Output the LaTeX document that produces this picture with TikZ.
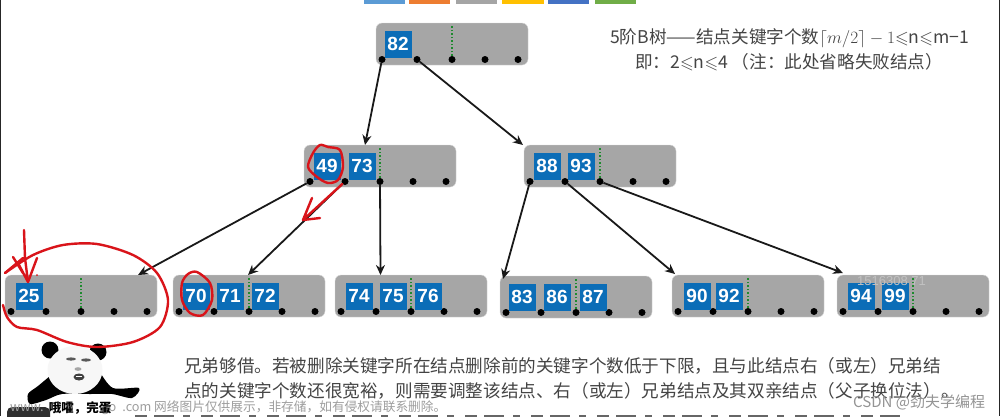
\documentclass[tikz,border=0pt]{standalone}
\usepackage[no-math]{fontspec}
\usepackage{amsmath}
\usepackage{amssymb}
\setmainfont{Liberation Sans}
\newfontfamily\cjk{Noto Sans CJK SC}
\usetikzlibrary{arrows.meta}
\definecolor{boxgrey}{HTML}{A6A6A6}
\definecolor{keyblue}{HTML}{0B6DB7}
\definecolor{greendot}{HTML}{1E8A2E}
\definecolor{inkred}{HTML}{D9141A}
\definecolor{textgrey}{HTML}{444444}
\tikzset{
  bnode/.style={draw=black!15, fill=boxgrey, rounded corners=6pt, minimum width=152pt, minimum height=42pt, inner sep=0pt},
  bdot/.style={circle, fill=black, minimum size=7pt, inner sep=0pt},
  bkey/.style={fill=keyblue, text=white, minimum size=27pt, inner sep=0pt, font=\bfseries\fontsize{19}{19}\selectfont},
  link/.style={-{Stealth[length=10pt,width=9pt]}, line width=1.8pt, black!90},
  redpen/.style={inkred, line width=2.4pt, line cap=round, line join=round},
  sidetext/.style={anchor=west, inner sep=0pt, text=textgrey, font=\cjk\fontsize{17.6}{20}\selectfont},
  stamp/.style={anchor=west, inner sep=0pt, text=black!38, font=\cjk\fontsize{12.7}{14}\selectfont},
}
\newcommand*{\BNode}[4]{% #1 = name, #2/#3 = left/top, #4 = list of key/dx
\node [bnode] (#1) at (#2+76,#3+21) {};
\foreach \i/\dx in {1/6,2/41,3/76,4/109,5/142} {
\node [bdot] (#1-\i) at (#2+\dx,#3+36.5) {};
}%
\draw [greendot, line width=1.5pt, dotted] (#1-3) -- ++(0,-34);
\foreach \k/\dx in {#4} {
\node [bkey] (#1-k\k) at (#2+\dx,#3+21) {\k};
}%
}

\begin{document}
\begin{tikzpicture}[x=1pt,y=-1pt]

            \useasboundingbox (0,0) rectangle (1000,416);
            \fill [white] (0,0) rectangle (1000,416);

            % colour strip
            \foreach \a/\b/\c in {364/405/5B9BD5,409/450/ED7D31,456/497/A5A5A5,502/544/FFC000,548/589/4472C4,595/636/70AD47} {
                \definecolor{strip}{HTML}{\c}
                \fill [strip] (\a,0) rectangle (\b,4);
            }

            % tree
            \BNode{root}{376}{23}{82/22}
            \BNode{midl}{304}{145}{49/23,73/58}
            \BNode{midr}{524}{145}{88/23,93/57}
            \BNode{leafa}{5}{275}{25/24}
            \BNode{leafb}{173}{275}{70/23,71/57,72/92}
            \BNode{leafc}{335}{275}{74/24,75/58,76/93}
            \BNode{leafd}{500}{276}{83/22,86/57,87/93}
            \BNode{leafe}{672}{275}{90/25,92/57}
            \BNode{leaff}{837}{275}{94/24,99/58}

            \coordinate (tipml) at (365,145);
            \coordinate (tipmr) at (523,145);
            \coordinate (tipa) at (138,275);
            \coordinate (tipb) at (248,275);
            \coordinate (tipc) at (380.5,275);
            \coordinate (tipd) at (503,279);
            \coordinate (tipe) at (675,274);
            \coordinate (tipf) at (843,273);
            \draw [link] (root-1) -- (tipml);
            \draw [link] (root-2) -- (tipmr);
            \draw [link] (midl-1) -- (tipa);
            \draw [link] (midl-2) -- (tipb);
            \draw [link] (midl-3) -- (tipc);
            \draw [link] (midr-1) -- (tipd);
            \draw [link] (midr-2) -- (tipe);
            \draw [link] (midr-3) -- (tipf);

            % notes
            \node [sidetext] (rulea) at (610,38) {5阶B树——结点关键字个数$\lceil m/2\rceil-1$$\leqslant$n$\leqslant$m−1};
            \node [sidetext] (ruleb) at (635,62) {即：2$\leqslant$n$\leqslant$4\ （注：此处省略失败结点）};
            \node [sidetext] (notea) at (184,366) {兄弟够借。若被删除关键字所在结点删除前的关键字个数低于下限，且与此结点右（或左）兄弟结};
            \node [sidetext] (noteb) at (184,391) {点的关键字个数还很宽裕，则需要调整该结点、右（或左）兄弟结点及其双亲结点（父子换位法）。};
            \draw [black!60, line width=2pt, dash pattern=on 12pt off 7pt on 20pt off 9pt on 7pt off 11pt] (135,415.5) -- (900,415.5);

            % panda
            \fill [black] (50,350) circle (8.5pt);
            \fill [black] (98,352) circle (8.5pt);
            \fill [black] plot [smooth] coordinates {(50,376) (38,386) (28,394) (30,404) (46,400) (62,394) (90,394) (112,394) (132,398) (139,388) (113,388) (100,372)};
            \fill [white!97!black] (75,370) ellipse (27.5pt and 24pt);
            \fill [black!65] (71,359) ellipse (5pt and 1.6pt);
            \fill [black!65] (86,360) ellipse (5pt and 1.6pt);
            \fill [black!35] (78,369) ellipse (3.5pt and 1.8pt);
            \fill [black!75] (79,377) ellipse (5.5pt and 3.5pt);
            \fill [white] (76,375.5) rectangle (82,376.5);
            \fill [black!82, rounded corners=5pt] (7,407) rectangle (50,422);

            % watermarks
            \node [stamp] (stampa) at (10,408) {www.\hspace{58pt}go\hspace{6pt}.com 网络图片仅供展示，非存储，如有侵权请联系删除。};
            \node [inner sep=0pt, font=\cjk\bfseries\fontsize{12.5}{14}\selectfont] (pandatext) at (80,408) {哦嚯，完蛋};
            \node [stamp, text=black!42, font=\cjk\fontsize{15}{16}\selectfont] (stampb) at (853,402) {CSDN @劲夫学编程};
            \node [anchor=west, inner sep=0pt, text=white!30!boxgrey, font=\fontsize{13}{14}\selectfont] (stampc) at (857,281) {1516308 71};

            % red pen
            \draw [redpen] plot [smooth] coordinates {(5,273) (33,255) (63,245) (97,244) (133,255) (157,273) (168,300) (160,327) (133,342) (97,347) (67,342) (37,330) (17,327) (7,317) (3,305)};
            \draw [redpen] (24,230) -- (25,258) -- (28,282) -- (18,263);
            \draw [redpen] (28,282) -- (37,258);
            \draw [redpen] (5,273) -- (23,258);
            \draw [redpen] (13,257) -- (23,273);
            \fill [inkred] (37,275) circle (1pt);
            \draw [redpen] plot [smooth cycle] coordinates {(320,145) (328,147) (340,150) (343,167) (338,180) (328,183) (317,177) (308,167) (313,153)};
            \draw [redpen] (midl-2) -- (303,220) -- (312,198);
            \draw [redpen] (303,220) -- (320,218);
            \draw [redpen] plot [smooth cycle] coordinates {(197,272) (210,283) (212,300) (203,315) (190,313) (182,300) (182,283) (188,274)};

            % page edges
            \draw [black!85, line width=1.2pt] (0.5,0) -- (0.5,416);
            \draw [black!85, line width=1.2pt] (999.5,0) -- (999.5,416);

        \end{tikzpicture}
\end{document}
